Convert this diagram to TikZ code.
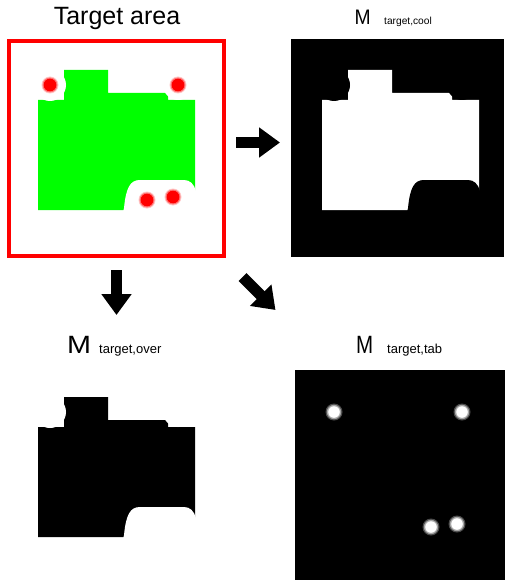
\documentclass[tikz,border=0pt]{standalone}
\usepackage{fontspec}
\setmainfont{Liberation Sans}
\usetikzlibrary{arrows.meta}
\definecolor{puregreen}{RGB}{0,255,0}
\definecolor{purered}{RGB}{255,0,0}
\tikzset{
  blobpath/.style={insert path={(38,100) -- (64,100) -- (64,70) -- (108,70) -- (108,93) -- (168,93) -- (168,100) -- (195,100) -- (195,210) -- (38,210) -- cycle}},
  notchpath/.style={insert path={(123,212) -- (124,208) .. controls (126,188) and (130,180) .. (140,180) -- (184,180) .. controls (190,180) and (194,184) .. (196,191) -- (197,212) -- cycle}},
  blockarr/.style={line width=11pt, -{Triangle[width=29pt,length=21pt]}},
  lbl/.style={inner sep=0pt, anchor=base west},
}
\newcommand{\halos}[1]{%
  \fill[#1] (50,85) circle[radius=16pt];
  \fill[#1] (178,85) circle[radius=15pt];
  \fill[#1, notchpath];}
\begin{document}
\begin{tikzpicture}[x=1pt,y=-1pt]
\useasboundingbox[fill=white] (0,0) rectangle (505,580);

% ---- panel 1: target area
\node[inner sep=0pt, anchor=base] (ttitle) at (117,25) {\fontsize{25}{30}\selectfont Target area};
\node[draw=purered, line width=4pt, minimum width=215pt, minimum height=215pt, inner sep=0pt] (target) at (116.5,148.5) {};
\fill[puregreen, blobpath];
\halos{white}
\foreach \p in {(50,85),(178,85),(147,200),(173,197)}{
  \fill[purered!22] \p circle[radius=8.5pt];
  \fill[purered!55] \p circle[radius=7.5pt];
  \fill[purered] \p circle[radius=6.3pt];}

% ---- panel 2: M target,cool
\node[fill=black, minimum width=213pt, minimum height=218pt, inner sep=0pt] (cool) at (397.5,148) {};
\node[lbl] (ctitle) at (354.5,25) {\fontsize{21}{24}\selectfont\scalebox{0.92}[1]{M}};
\node[lbl] (csub) at (384,25) {\fontsize{10.2}{12}\selectfont target,cool};
\begin{scope}[shift={(284,0)}]
  \fill[white, blobpath];
  \halos{black}
\end{scope}

% ---- panel 3: M target,over
\node[lbl] (otitle) at (67,353) {\fontsize{25}{30}\selectfont\scalebox{1.15}[1]{M}};
\node[lbl] (osub) at (99,353) {\fontsize{13}{15}\selectfont target,over};
\begin{scope}[shift={(0,327)}]
  \fill[black, blobpath];
  \halos{white}
\end{scope}

% ---- panel 4: M target,tab
\node[fill=black, minimum width=210pt, minimum height=210pt, inner sep=0pt] (tab) at (400,475) {};
\node[lbl] (ttitle2) at (356,353) {\fontsize{25}{30}\selectfont\scalebox{0.82}[1]{M}};
\node[lbl] (tsub) at (387,353) {\fontsize{13}{15}\selectfont target,tab};
\begin{scope}[shift={(284,327)}]
  \foreach \p in {(50,85),(178,85),(147,200),(173,197)}{
    \fill[black!70] \p circle[radius=8.5pt];
    \fill[black!35] \p circle[radius=7.2pt];
    \fill[white] \p circle[radius=5.8pt];}
\end{scope}

% ---- arrows
\coordinate (r1) at (236,142.5);
\coordinate (r2) at (280,142.5);
\coordinate (d1) at (116.5,270);
\coordinate (d2) at (116.5,315);
\coordinate (g1) at (242.5,277);
\coordinate (g2) at (275.5,310);
\draw[blockarr] (r1) -- (r2);
\draw[blockarr] (d1) -- (d2);
\draw[blockarr] (g1) -- (g2);
\end{tikzpicture}
\end{document}
